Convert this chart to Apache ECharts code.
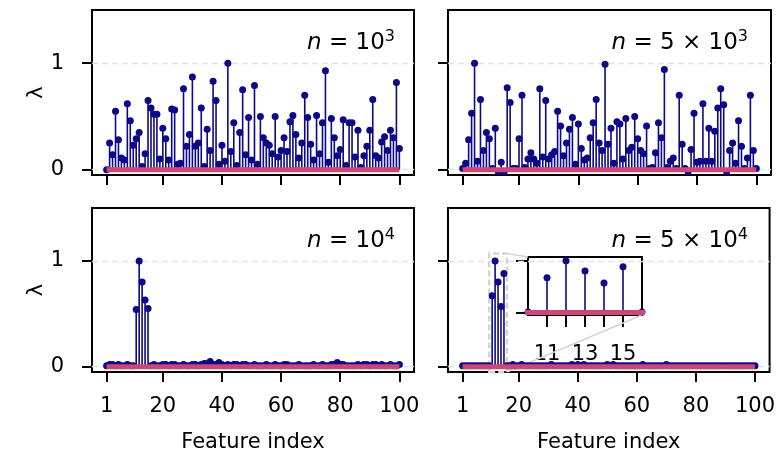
<!DOCTYPE html>
<html>
<head>
<meta charset="utf-8">
<title>Feature weights</title>
<script src="https://cdn.jsdelivr.net/npm/echarts/dist/echarts.min.js"></script>
<style>
  html, body { margin: 0; padding: 0; background: #fff; }
  #chart { width: 778px; height: 456px; }
</style>
</head>
<body>
<div id="chart"></div>
<script>
// Feature indices 1..100 shared by every panel
const featureIdx = Array.from({ length: 100 }, (_, k) => k + 1);

// Estimated lambda per feature, one array per sample size
const lambdaN1e3 = [
  0.00, 0.25, 0.14, 0.55, 0.28, 0.11, 0.09, 0.62, 0.46, 0.23,
  0.29, 0.35, 0.03, 0.15, 0.65, 0.58, 0.52, 0.52, 0.10, 0.39,
  0.29, 0.09, 0.57, 0.56, 0.05, 0.06, 0.76, 0.22, 0.33, 0.87,
  0.22, 0.25, 0.58, 0.03, 0.38, 0.18, 0.83, 0.65, 0.05, 0.23,
  0.08, 1.00, 0.17, 0.44, 0.04, 0.35, 0.75, 0.14, 0.49, 0.09,
  0.79, 0.05, 0.50, 0.30, 0.25, 0.23, 0.15, 0.50, 0.12, 0.18,
  0.30, 0.17, 0.45, 0.51, 0.33, 0.11, 0.25, 0.70, 0.49, 0.24,
  0.09, 0.51, 0.15, 0.44, 0.93, 0.07, 0.48, 0.30, 0.13, 0.19,
  0.47, 0.04, 0.44, 0.44, 0.12, 0.37, 0.02, 0.13, 0.22, 0.37,
  0.66, 0.13, 0.11, 0.26, 0.31, 0.18, 0.37, 0.30, 0.82, 0.20
];
const lambdaN5e3 = [
  0.01, 0.06, 0.28, 0.53, 1.00, 0.08, 0.66, 0.18, 0.35, 0.29,
  0.01, 0.39, -0.02, 0.07, -0.02, 0.77, 0.63, 0.01, 0.01, 0.29,
  0.70, 0.02, 0.10, 0.16, 0.10, 0.06, 0.76, 0.12, 0.65, 0.10,
  0.14, 0.17, 0.55, 0.41, 0.13, 0.25, 0.38, 0.49, 0.05, 0.43,
  0.20, 0.09, 0.11, 0.30, 0.44, 0.66, 0.25, 0.18, 0.99, 0.24,
  0.39, 0.06, 0.45, 0.43, 0.10, 0.48, 0.18, 0.21, 0.50, 0.29,
  0.18, 0.15, 0.41, 0.01, 0.02, 0.16, 0.44, 0.30, 0.94, 0.02,
  0.08, 0.11, 0.01, 0.70, 0.24, 0.01, -0.02, 0.19, 0.53, 0.07,
  0.08, 0.62, 0.08, 0.39, 0.08, 0.36, 0.58, 0.76, 0.61, -0.02,
  0.18, 0.25, 0.06, 0.46, 0.22, 0.01, 0.11, 0.70, 0.18, 0.01
];
const lambdaN1e4 = [
  0.01, 0.02, 0.02, 0.01, 0.02, 0.01, 0.01, 0.02, 0.01, 0.01,
  0.54, 1.00, 0.80, 0.63, 0.55, 0.01, 0.02, 0.01, 0.01, 0.02,
  0.02, 0.01, 0.02, 0.02, 0.01, 0.01, 0.02, 0.01, 0.01, 0.02,
  0.02, 0.01, 0.02, 0.03, 0.03, 0.05, 0.02, 0.02, 0.04, 0.02,
  0.01, 0.02, 0.01, 0.02, 0.02, 0.01, 0.02, 0.02, 0.01, 0.01,
  0.02, 0.01, 0.01, 0.01, 0.02, 0.01, 0.01, 0.02, 0.01, 0.01,
  0.02, 0.02, 0.01, 0.01, 0.01, 0.02, 0.01, 0.01, 0.01, 0.01,
  0.02, 0.01, 0.01, 0.02, 0.01, 0.01, 0.02, 0.02, 0.04, 0.02,
  0.02, 0.01, 0.01, 0.01, 0.01, 0.02, 0.01, 0.02, 0.02, 0.01,
  0.02, 0.02, 0.01, 0.02, 0.01, 0.01, 0.02, 0.01, 0.01, 0.02
];
const lambdaN5e4 = [
  0.01, 0.01, 0.01, 0.01, 0.01, 0.01, 0.01, 0.01, 0.01, 0.01,
  0.67, 1.00, 0.80, 0.57, 0.88, 0.01, 0.01, 0.02, 0.01, 0.01,
  0.02, 0.01, 0.01, 0.01, 0.01, 0.01, 0.01, 0.01, 0.01, 0.01,
  0.02, 0.01, 0.01, 0.01, 0.01, 0.01, 0.01, 0.02, 0.01, 0.02,
  0.01, 0.02, 0.01, 0.01, 0.01, 0.01, 0.01, 0.01, 0.01, 0.02,
  0.01, 0.02, 0.01, 0.01, 0.01, 0.01, 0.01, 0.01, 0.01, 0.01,
  0.01, 0.02, 0.01, 0.01, 0.01, 0.01, 0.01, 0.01, 0.01, 0.02,
  0.01, 0.01, 0.01, 0.01, 0.01, 0.01, 0.01, 0.01, 0.01, 0.01,
  0.01, 0.01, 0.01, 0.01, 0.01, 0.01, 0.01, 0.01, 0.01, 0.01,
  0.01, 0.01, 0.01, 0.01, 0.01, 0.01, 0.01, 0.01, 0.01, 0.01
];

// Axis ticks and labels
const xTickValues = [1, 20, 40, 60, 80, 100];
const yTickValues = [0, 1];
const insetTickValues = [11, 12, 13, 14, 15];
const insetLabelValues = [11, 13, 15];
const insetRange = [10, 16];
const panelLabels = [
  '{i|n}{t| = 10}{s|3}',
  '{i|n}{t| = 5 × 10}{s|3}',
  '{i|n}{t| = 10}{s|4}',
  '{i|n}{t| = 5 × 10}{s|4}'
];
const panelValues = [lambdaN1e3, lambdaN5e3, lambdaN1e4, lambdaN5e4];

const FONT = 'DejaVu Sans';
const STEM = '#0d0887';
const BASE = '#cc4778';

const grids = [
  { left: 92,  top: 10,  width: 322, height: 165 },
  { left: 448, top: 10,  width: 323, height: 165 },
  { left: 92,  top: 208, width: 322, height: 164 },
  { left: 448, top: 208, width: 323, height: 164 },
  { left: 528, top: 257, width: 114, height: 58 }   // zoomed inset
].map(g => Object.assign({
  show: true, borderColor: '#000', borderWidth: 2, backgroundColor: '#fff', containLabel: false
}, g));

const tickLine = { color: '#000', width: 2 };
const hiddenLine = { show: false, onZero: false };
const labelFont = { color: '#000', fontFamily: FONT, fontSize: 21, fontWeight: 'normal' };

const xAxes = [0, 1, 2, 3].map(k => ({
  type: 'value', gridIndex: k, min: -3.95, max: 104.95,
  axisLine: hiddenLine, splitLine: { show: false },
  axisTick: { show: true, inside: false, length: 10, lineStyle: tickLine, customValues: xTickValues },
  axisLabel: Object.assign({ show: k >= 2, customValues: xTickValues, margin: 24 }, labelFont),
  name: k >= 2 ? 'Feature index' : '', nameLocation: 'middle', nameGap: 60,
  nameTextStyle: labelFont
}));
xAxes.push({
  type: 'value', gridIndex: 4, min: insetRange[0], max: insetRange[1],
  axisLine: hiddenLine, splitLine: { show: false },
  axisTick: { show: true, inside: false, length: 12, lineStyle: tickLine, customValues: insetTickValues },
  axisLabel: Object.assign({ customValues: insetLabelValues, margin: 29 }, labelFont)
});

const yAxes = [0, 1, 2, 3].map(k => ({
  type: 'value', gridIndex: k, min: -0.05, max: 1.5,
  axisLine: hiddenLine, splitLine: { show: false },
  axisTick: { show: true, inside: false, length: 10, lineStyle: tickLine, customValues: yTickValues },
  axisLabel: Object.assign({ show: k % 2 === 0, customValues: yTickValues, margin: 28 }, labelFont),
  name: k % 2 === 0 ? 'λ' : '', nameLocation: 'middle', nameGap: 43, nameRotate: 90,
  nameTextStyle: labelFont
}));
yAxes.push({
  type: 'value', gridIndex: 4, min: -0.05, max: 1.07,
  axisLine: hiddenLine, splitLine: { show: false },
  axisTick: { show: true, inside: false, length: 12, lineStyle: tickLine, customValues: yTickValues },
  axisLabel: { show: false }
});

function stemSeries(axis, values) {
  const pts = featureIdx.map((x, j) => [x, values[j]]);
  return [
    {
      type: 'custom', xAxisIndex: axis, yAxisIndex: axis, clip: true, silent: true, z: 2,
      data: pts,
      renderItem: (params, api) => {
        const x = api.value(0);
        const a = api.coord([x, 0]);
        const b = api.coord([x, api.value(1)]);
        return { type: 'line', shape: { x1: a[0], y1: a[1], x2: b[0], y2: b[1] },
                 style: { stroke: STEM, lineWidth: 1.6 } };
      }
    },
    {
      type: 'scatter', xAxisIndex: axis, yAxisIndex: axis, clip: true, silent: true, z: 3,
      symbol: 'circle', symbolSize: 7, itemStyle: { color: STEM, opacity: 1 },
      data: pts
    },
    {
      type: 'line', xAxisIndex: axis, yAxisIndex: axis, clip: true, silent: true, z: 4,
      symbol: 'none', lineStyle: { color: BASE, width: 5 },
      data: [[featureIdx[0], 0], [featureIdx[featureIdx.length - 1], 0]]
    }
  ];
}

const series = [];
[0, 1, 2, 3].forEach(k => {
  // dashed horizontal guides at the y ticks, kept beneath the stems
  series.push({
    type: 'line', xAxisIndex: k, yAxisIndex: k, silent: true, z: 1,
    symbol: 'none', lineStyle: { width: 0 }, data: [],
    markLine: {
      silent: true, z: 1, symbol: 'none', label: { show: false },
      lineStyle: { color: '#e2e2e2', width: 1.3, type: [6, 4] },
      data: yTickValues.map(v => ({ yAxis: v }))
    },
    markArea: k === 3 ? {
      silent: true, z: 1,
      itemStyle: { color: 'rgba(0,0,0,0)', borderColor: '#d4d4d4', borderWidth: 2.5, borderType: [6, 3] },
      data: [[{ coord: [insetRange[0], -0.05] }, { coord: [insetRange[1], 1.07] }]]
    } : undefined
  });
  series.push(...stemSeries(k, panelValues[k]));
});
series.push(...stemSeries(4, lambdaN5e4));

const richStyle = {
  i: { fontFamily: FONT, fontSize: 23, fontStyle: 'italic', fontWeight: 'normal', color: '#000', lineHeight: 28 },
  t: { fontFamily: FONT, fontSize: 23, fontWeight: 'normal', color: '#000', lineHeight: 28 },
  s: { fontFamily: FONT, fontSize: 16, fontWeight: 'normal', color: '#000', lineHeight: 16, verticalAlign: 'top' }
};
const titleRight = [383, 30, 383, 30];
const titleTop = [29, 29, 227, 227];
const titles = panelLabels.map((txt, k) => ({
  text: txt, right: titleRight[k], top: titleTop[k], padding: 0,
  textStyle: { rich: richStyle, fontFamily: FONT, fontSize: 23, fontWeight: 'normal' }
}));

const chart = echarts.init(document.getElementById('chart'), null, { renderer: 'canvas' });
chart.setOption({
  animation: false,
  backgroundColor: '#fff',
  title: titles,
  grid: grids,
  xAxis: xAxes,
  yAxis: yAxes,
  series: series
});

// connectors from the highlighted region to the inset corners
const rectTR = chart.convertToPixel({ gridIndex: 3 }, [insetRange[1], 1.07]);
const rectBR = chart.convertToPixel({ gridIndex: 3 }, [insetRange[1], -0.05]);
const insTL = chart.convertToPixel({ gridIndex: 4 }, [insetRange[0], 1.07]);
const insBR = chart.convertToPixel({ gridIndex: 4 }, [insetRange[1], -0.05]);
chart.setOption({
  graphic: [
    { type: 'line', silent: true, z: 1, shape: { x1: rectTR[0], y1: rectTR[1], x2: insTL[0], y2: insTL[1] },
      style: { stroke: '#d4d4d4', lineWidth: 1.5 } },
    { type: 'line', silent: true, z: 1, shape: { x1: rectBR[0], y1: rectBR[1], x2: insBR[0], y2: insBR[1] },
      style: { stroke: '#d4d4d4', lineWidth: 1.5 } }
  ]
});
</script>
</body>
</html>
